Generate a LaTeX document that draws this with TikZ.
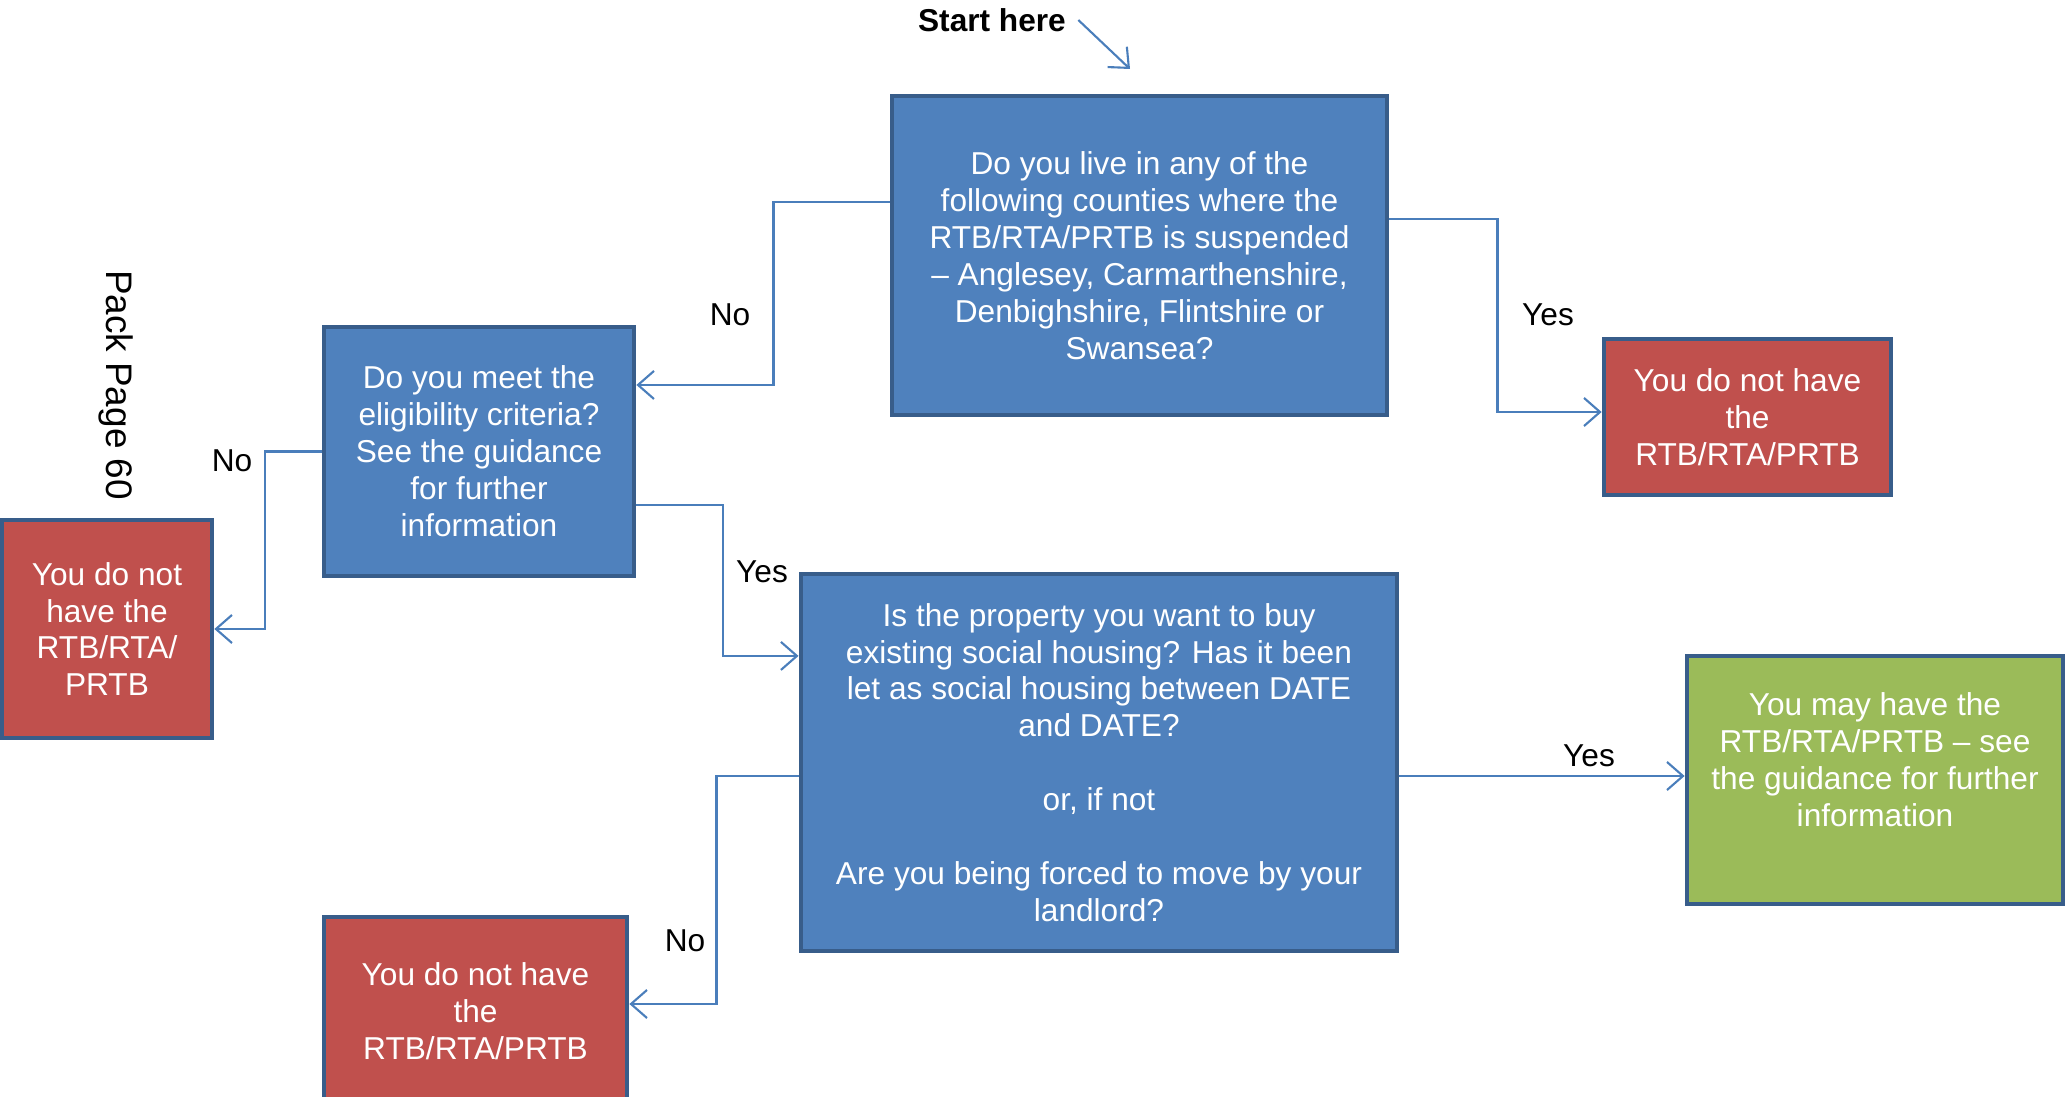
\documentclass[tikz,border=0pt]{standalone}
\usepackage{fontspec}
\setmainfont{Liberation Sans}
\usetikzlibrary{arrows.meta,positioning,calc}
\definecolor{Query}{HTML}{4F81BD}
\definecolor{Edge}{HTML}{385D8A}
\definecolor{Refuse}{HTML}{C0504D}
\definecolor{Grant}{HTML}{9BBB59}
\definecolor{Link}{HTML}{4A7EBB}

\begin{document}
\begin{tikzpicture}[x=0.01cm,y=-0.01cm,
        box/.style={draw=Edge,line width=1.3pt,text=white,align=center,inner sep=4pt,font=\fontsize{9}{10.5}\selectfont},
        ask/.style={box,fill=Query},
        deny/.style={box,fill=Refuse},
        grant/.style={box,fill=Grant},
        link/.style={-{Straight Barb[length=1.6mm,width=2.8mm]},Link,line width=0.6pt},
        tag/.style={font=\fontsize{9}{10.5}\selectfont}]
        \useasboundingbox (0,0) rectangle (2066,1097);
        \node[ask,minimum width=49.5mm,minimum height=31.9mm] (counties) at (1139.5,255.5) {Do you live in any of the\\following counties where the\\RTB/RTA/PRTB is suspended\\-- Anglesey, Carmarthenshire,\\Denbighshire, Flintshire or\\Swansea?};
        \node[ask,minimum width=31mm,minimum height=24.9mm] (criteria) at (479,451.5) {Do you meet the\\eligibility criteria?\\See the guidance\\for further\\information};
        \node[ask,minimum width=59.6mm,minimum height=37.7mm] (property) at (1099,762.5) {Is the property you want to buy\\existing social housing? Has it been\\let as social housing between DATE\\and DATE?\\[10.5pt]or, if not\\[10.5pt]Are you being forced to move by your\\landlord?};
        \node[deny,minimum width=28.7mm,minimum height=15.6mm] (notA) at (1747.5,417) {You do not have\\the\\RTB/RTA/PRTB};
        \node[deny,minimum width=21mm,minimum height=21.8mm] (notB) at (107,629) {You do not\\have the\\RTB/RTA/\\PRTB};
        \node[deny,minimum width=30.3mm,minimum height=18.8mm] (notC) at (475.5,1011) {You do not have\\the\\RTB/RTA/PRTB};
        \node[grant,minimum width=37.6mm,minimum height=24.8mm,text depth=11.5pt] (may) at (1875,780) {You may have the\\RTB/RTA/PRTB -- see\\the guidance for further\\information};
        \node[font=\fontsize{9}{10.5}\selectfont\bfseries] (start) at (992,20) {Start here};
        \node[rotate=-90,font=\fontsize{10.5}{12}\selectfont] (pack) at (116,385) {Pack Page 60};
        \node[tag] (no1) at (730,315) {No};
        \node[tag] (yes1) at (1548,315) {Yes};
        \node[tag] (no2) at (232,461) {No};
        \node[tag] (yes2) at (762,572) {Yes};
        \node[tag] (no3) at (685,941) {No};
        \node[tag] (yes3) at (1589,756) {Yes};
        \coordinate (entry) at (1130,69);
        \draw[link] (start.east) -- (entry);
        \draw[link] ([yshift=5.35mm]counties.west) -- ++(-11.6mm,0) |- ([yshift=6.65mm]criteria.east);
        \draw[link] ([yshift=3.65mm]counties.east) -- ++(10.8mm,0) |- ([yshift=0.5mm]notA.west);
        \draw[link] (criteria.west) -- ++(-5.7mm,0) |- (notB.east);
        \draw[link] ([yshift=-5.35mm]criteria.east) -- ++(8.7mm,0) |- ([yshift=10.65mm]property.west);
        \draw[link] ([yshift=-1.35mm]property.west) -- ++(-8.2mm,0) |- ([yshift=0.7mm]notC.east);
        \draw[link] ([yshift=-1.35mm]property.east) -- ([yshift=-1.35mm]property.east -| may.west);
      \end{tikzpicture}
\end{document}
